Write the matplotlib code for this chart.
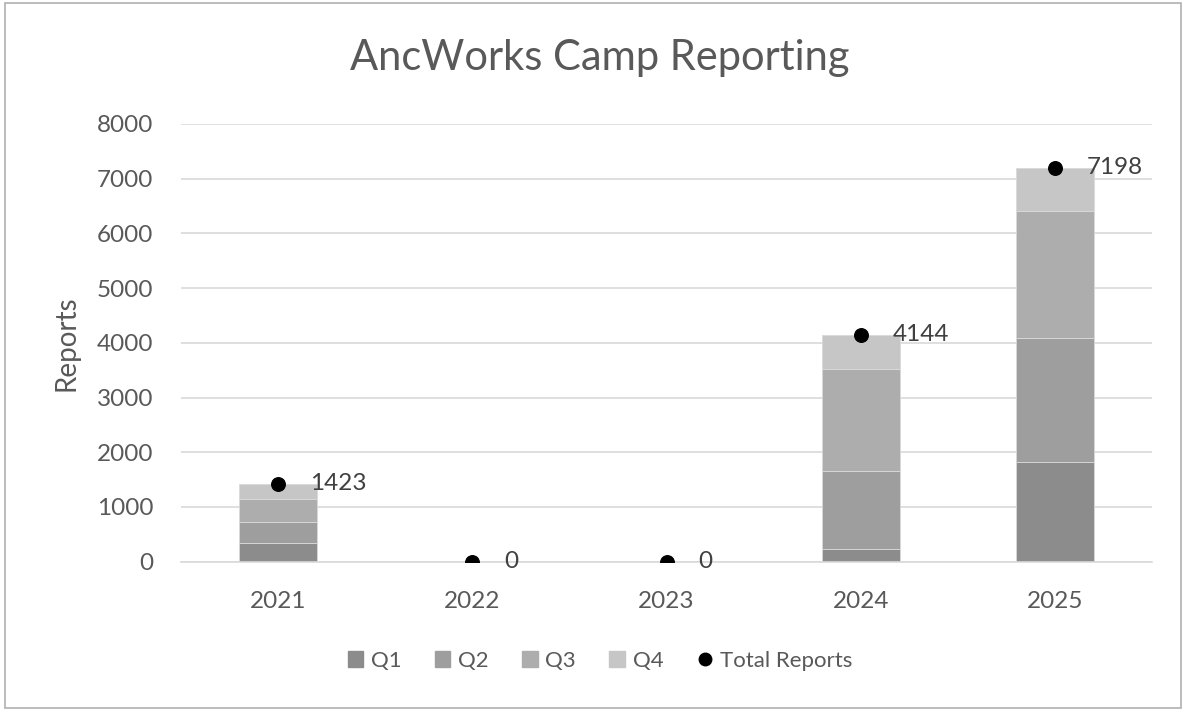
import matplotlib
matplotlib.use("Agg")
import matplotlib.pyplot as plt
from matplotlib.patches import Rectangle
from matplotlib.lines import Line2D
import numpy as np

years = ["2021", "2022", "2023", "2024", "2025"]
q1 = [350, 0, 0, 226, 1820]
q2 = [383, 0, 0, 1436, 2268]
q3 = [410, 0, 0, 1852, 2316]
q4 = [280, 0, 0, 630, 794]
totals = [1423, 0, 0, 4144, 7198]
series_names = ["Q1", "Q2", "Q3", "Q4"]
colors = ["#8c8c8c", "#9e9e9e", "#adadad", "#c6c6c6"]

plt.rcParams['font.family'] = ['Lato', 'DejaVu Sans']
W, H = 1186, 713
fig = plt.figure(figsize=(W/100, H/100), dpi=100)
fig.patch.set_facecolor("white")
fig.add_artist(Rectangle((5/W, 5/H), (W-10)/W, (H-8)/H, transform=fig.transFigure,
                         fill=False, edgecolor="#b0b0b0", linewidth=1.2))

ax = fig.add_axes([181/W, (H-561.7)/H, (1152-181)/W, (561.7-124)/H])
x = np.arange(len(years))
bottom = np.zeros(len(years))
for vals, name, c in zip([q1, q2, q3, q4], series_names, colors):
    ax.bar(x, vals, width=0.4, bottom=bottom, color=c, edgecolor="#d9d9d9",
           linewidth=0.6, label=name, zorder=2)
    bottom += np.array(vals)

ax.scatter(x, totals, color="black", s=95, zorder=4, label="Total Reports")
for xi, t in zip(x, totals):
    ax.annotate(str(t), (xi, t), xytext=(23, 0), textcoords="offset points",
                va="center", ha="left", fontsize=17.5, color="#404040", zorder=5)

ax.set_xlim(-0.5, len(years) - 0.5)
ax.set_ylim(0, 8000)
ax.set_yticks(range(0, 8001, 1000))
ax.set_xticks(x)
ax.set_xticklabels(years)
ax.yaxis.grid(True, color="#d9d9d9", linewidth=1.2, zorder=0)
ax.set_axisbelow(True)
for s in ["top", "right", "left"]:
    ax.spines[s].set_visible(False)
ax.spines["bottom"].set_color("#d9d9d9")
ax.spines["bottom"].set_linewidth(1.2)
ax.tick_params(axis="both", length=0, labelsize=17.5, colors="#595959")
ax.tick_params(axis="y", pad=20)
ax.tick_params(axis="x", pad=21)
ax.set_ylabel("Reports", fontsize=20, color="#595959")
ax.yaxis.set_label_coords((80 - 181) / (1152 - 181), 0.5)

fig.text(600/W, 1 - 58/H, "AncWorks Camp Reporting", ha="center", va="center",
         fontsize=30, color="#595959")

leg_handles = [Rectangle((0, 0), 1, 1, color=c) for c in colors] + [
    Line2D([], [], marker="o", color="black", linestyle="None", markersize=9)]
fig.legend(leg_handles, series_names + ["Total Reports"], loc="center",
           bbox_to_anchor=(600/W, 1 - 661/H), ncol=5, frameon=False,
           fontsize=16, labelcolor="#595959", handlelength=0.7, handleheight=0.7,
           handletextpad=0.35, columnspacing=1.5)

fig.savefig("out.png", dpi=100)
